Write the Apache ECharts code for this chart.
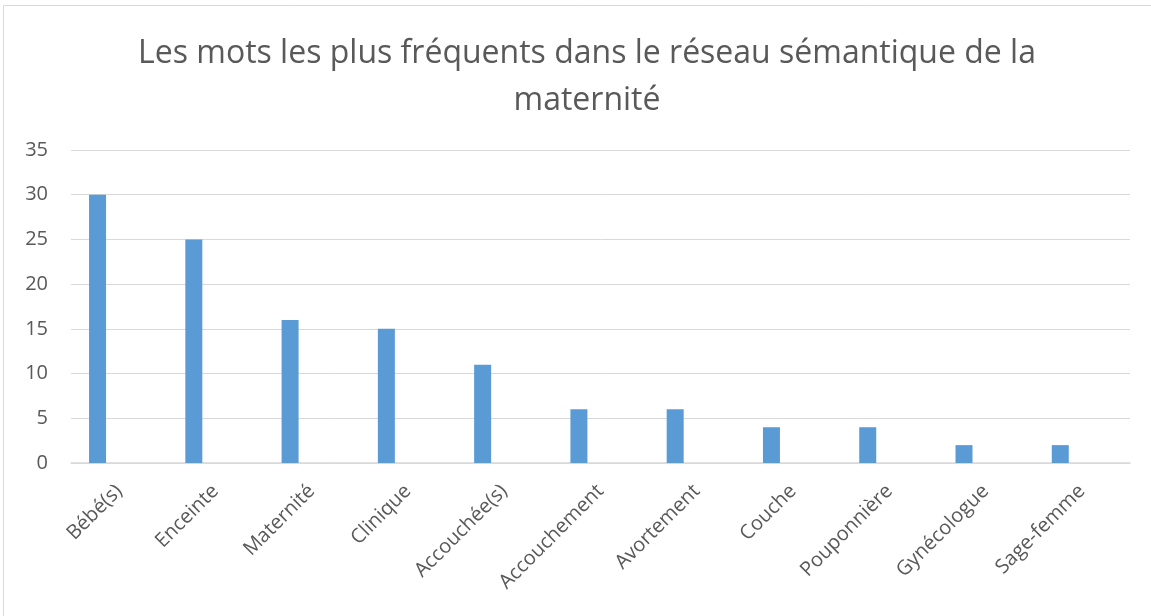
<!DOCTYPE html>
<html>
<head>
<meta charset="utf-8">
<script src="https://cdn.jsdelivr.net/npm/echarts@6/dist/echarts.min.js"></script>
<style>
  html, body { margin: 0; padding: 0; background: #fff; }
  #chart { width: 1151px; height: 616px; }
</style>
</head>
<body>
<div id="chart"></div>
<script>
const categories = ['Bébé(s)', 'Enceinte', 'Maternité', 'Clinique', 'Accouchée(s)', 'Accouchement', 'Avortement', 'Couche', 'Pouponnière', 'Gynécologue', 'Sage-femme']
const counts = [30, 25, 16, 15, 11, 6, 6, 4, 4, 2, 2]
const yTicks = { min: 0, max: 35, interval: 5 }

const chart = echarts.init(document.getElementById('chart'))
chart.setOption({
  animation: false,
  textStyle: { fontFamily: 'Open Sans' },
  graphic: [{
    type: 'rect',
    shape: { x: 3.5, y: 5.5, width: 1200, height: 700 },
    style: { fill: 'none', stroke: '#d9d9d9', lineWidth: 1 }
  }],
  title: {
    text: 'Les mots les plus fréquents dans le réseau sémantique de la\nmaternité',
    left: 582,
    textAlign: 'center',
    top: 25,
    textStyle: {
      color: '#595959',
      fontSize: 32,
      fontWeight: 'normal',
      fontFamily: 'Open Sans',
      lineHeight: 47
    }
  },
  grid: { left: 71, right: 21, top: 150, bottom: 153, containLabel: false },
  xAxis: {
    type: 'category',
    data: categories,
    axisLine: { lineStyle: { color: '#d9d9d9', width: 1.5 } },
    axisTick: { show: false },
    axisLabel: {
      rotate: 45,
      color: '#595959',
      fontSize: 20,
      margin: 25,
      interval: 0
    }
  },
  yAxis: {
    type: 'value',
    min: yTicks.min,
    max: yTicks.max,
    interval: yTicks.interval,
    axisLine: { show: false },
    axisTick: { show: false },
    axisLabel: { color: '#595959', fontSize: 20, margin: 23 },
    splitLine: { lineStyle: { color: '#d9d9d9' } }
  },
  series: [{
    type: 'bar',
    data: counts,
    barWidth: 17,
    barGap: '154%',
    itemStyle: { color: '#5b9bd5' }
  }, {
    type: 'bar',
    data: [],
    barWidth: 17,
    itemStyle: { color: '#5b9bd5' }
  }]
})
</script>
</body>
</html>
